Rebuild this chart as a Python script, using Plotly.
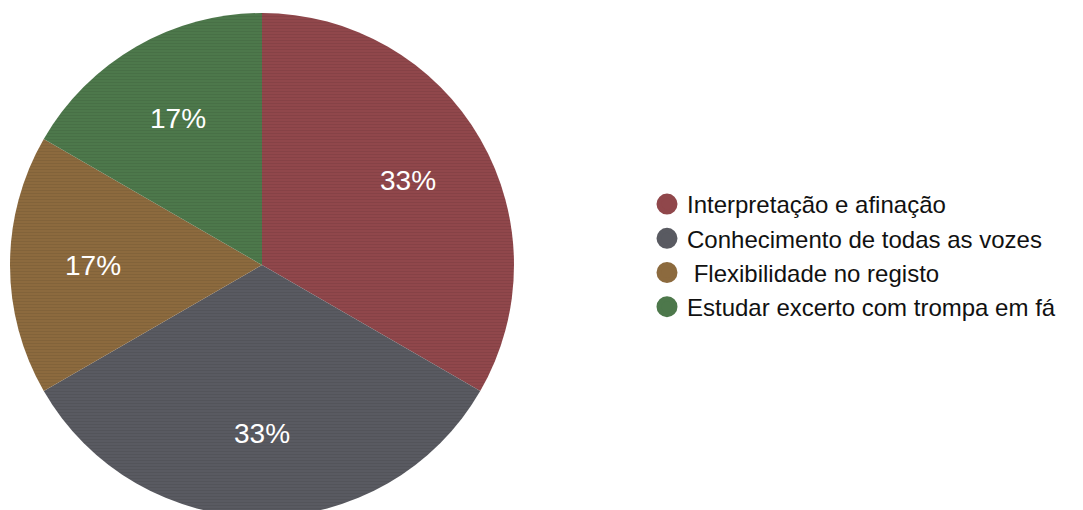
import math
import plotly.graph_objects as go

# Survey answers (counts) and their categories
categories = [
    "Interpretação e afinação",
    "Conhecimento de todas as vozes",
    " Flexibilidade no registo",
    "Estudar excerto com trompa em fá",
]
counts = [2, 2, 1, 1]
colors = ["#90474B", "#595A61", "#8C6A3E", "#4D784B"]

W, H = 1083, 517
# pie placement in pixels (derived domain below)
cx, cy, R = 262, 265, 252

fig = go.Figure()

fig.add_trace(go.Pie(
    labels=categories,
    values=counts,
    sort=False,
    direction="clockwise",
    rotation=0,
    marker=dict(
        colors=colors,
        line=dict(width=0),
        pattern=dict(shape="-", size=3, solidity=0.35, bgcolor=colors,
                     fgcolor="#000000", fgopacity=0.07),
    ),
    textinfo="none",
    showlegend=False,
    hoverinfo="label+percent",
    domain=dict(x=[(cx - R) / W, (cx + R) / W], y=[(H - cy - R) / H, (H - cy + R) / H]),
))

# Percentage labels placed at the middle angle of each slice
total = sum(counts)
start = 0.0
for v in counts:
    frac = v / total
    mid = (start + frac / 2) * 2 * math.pi  # clockwise from 12 o'clock
    start += frac
    px = cx + 0.67 * R * math.sin(mid)
    py = cy - 0.67 * R * math.cos(mid)
    fig.add_annotation(
        x=px / W, y=1 - py / H, xref="paper", yref="paper",
        xanchor="center", yanchor="middle",
        text=f"{round(100 * frac)}%", showarrow=False,
        font=dict(family="Liberation Sans, Arial, sans-serif", size=28, color="white"),
    )

# Legend entries with round symbols
for name, c in zip(categories, colors):
    fig.add_trace(go.Scatter(
        x=[None], y=[None], mode="markers", name=name,
        marker=dict(symbol="circle", size=16, color=c, line=dict(width=5, color=c)),
    ))

fig.update_layout(
    width=W, height=H,
    margin=dict(l=0, r=0, t=0, b=0),
    paper_bgcolor="white", plot_bgcolor="white",
    xaxis=dict(visible=False), yaxis=dict(visible=False),
    legend=dict(
        x=647 / W, y=1 - 182 / H, xanchor="left", yanchor="top",
        font=dict(family="Liberation Sans, Arial, sans-serif", size=24, color="#111111"),
        itemclick=False, bgcolor="rgba(0,0,0,0)",
    ),
    showlegend=True,
)

fig.write_html(
    "out.html",
    post_script="document.documentElement.style.overflow='hidden';document.body.style.overflow='hidden';document.body.style.margin='0';",
)
